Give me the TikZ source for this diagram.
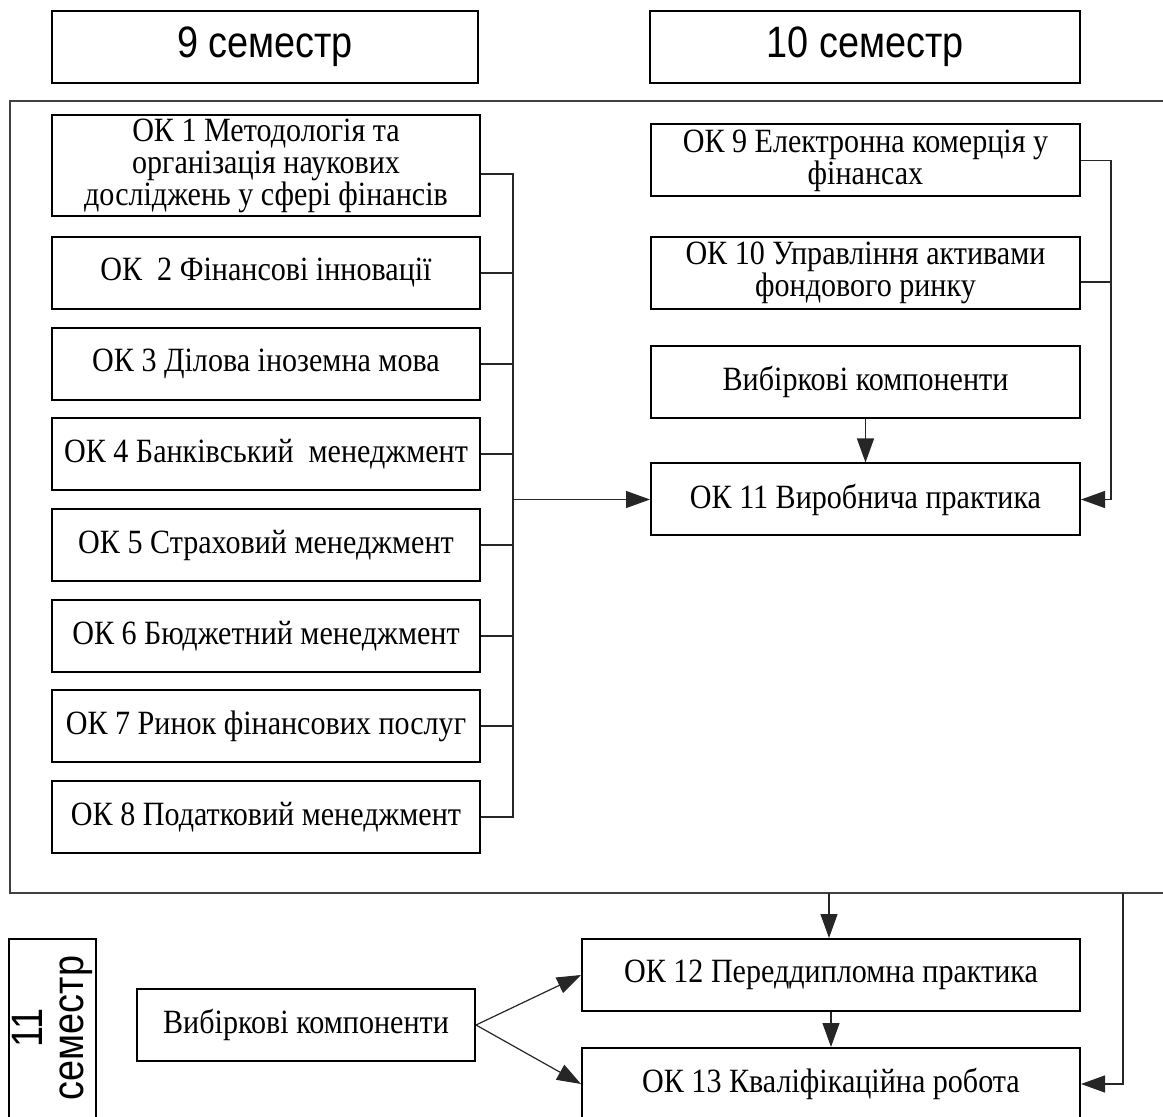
\documentclass[tikz,border=0pt]{standalone}
\usepackage{fontspec}
\setmainfont{Liberation Serif}[FakeStretch=0.885]
\setsansfont{Liberation Sans}[FakeStretch=0.86]
\usetikzlibrary{arrows.meta}
\begin{document}
\begin{tikzpicture}[x=0.5pt,y=-0.5pt,
  box/.style={draw=black, line width=1pt, inner sep=0pt, align=center,
    minimum width=214pt, minimum height=36pt,
    font=\fontsize{17}{16}\selectfont},
  rbox/.style={box, minimum width=214.5pt},
  head/.style={draw=black, line width=1pt, inner sep=0pt, align=center,
    minimum height=36pt, font=\sffamily\fontsize{22}{24}\selectfont},
  conn/.style={draw=black!85, line width=0.6pt},
  arr/.style={-{Triangle[length=12pt,width=8.5pt]}},
  frame/.style={draw=black!75, line width=0.6pt}]
\useasboundingbox (0,0) rectangle (1163,1117);
% headers
\node[head, minimum width=213pt] (h9) at (265,47) {9 семестр};
\node[head, minimum width=215pt] (h10) at (865,47) {10 семестр};
% frame
\draw[frame] (10,101) rectangle (1200,893);
% left column
\node[box, minimum height=50.5pt] (ok1) at (266,165.5) {ОК 1 Методологія та\\організація наукових\\досліджень у сфері фінансів};
\node[box] (ok2) at (266,273) {ОК\ \ 2 Фінансові інновації};
\node[box] (ok3) at (266,364) {ОК 3 Ділова іноземна мова};
\node[box] (ok4) at (266,454) {ОК 4 Банківський\ \ менеджмент};
\node[box] (ok5) at (266,545) {ОК 5 Страховий менеджмент};
\node[box] (ok6) at (266,636) {ОК 6 Бюджетний менеджмент};
\node[box] (ok7) at (266,726) {ОК 7 Ринок фінансових послуг};
\node[box] (ok8) at (266,817) {ОК 8 Податковий менеджмент};
% right column
\node[rbox] (ok9) at (865.5,160.5) {ОК 9 Електронна комерція у\\фінансах};
\node[rbox] (ok10) at (865.5,273) {ОК 10 Управління активами\\фондового ринку};
\node[rbox] (vib1) at (865.5,382) {Вибіркові компоненти};
\node[rbox] (ok11) at (865.5,499.5) {ОК 11 Виробнича практика};
% bottom
\node[draw=black, line width=1pt, minimum width=43.5pt, minimum height=93pt, inner sep=0pt] (s11) at (52.5,1032) {};
\node[rotate=90, anchor=south, align=center, inner sep=0pt, font=\sffamily\fontsize{22}{20.5}\selectfont] (s11t) at (93,1028) {11\\семестр};
\node[box, minimum width=169pt] (vib2) at (306,1025) {Вибіркові компоненти};
\node[box, minimum width=249pt] (ok12) at (831,975) {ОК 12 Переддипломна практика};
\node[box, minimum width=249pt] (ok13) at (831,1084) {ОК 13 Кваліфікаційна робота};
% left bus
\coordinate (lb) at (513,174);
\draw[conn] (ok1.east |- lb) -- (lb) -- (lb |- ok8.east) -- (ok8.east);
\foreach \n in {2,...,7} \draw[conn] (ok\n.east) -- (ok\n.east -| lb);
\draw[conn,arr] (ok11.west -| lb) -- (ok11.west);
% right bus
\coordinate (rb) at (1111,161);
\coordinate (r10) at (1111,282);
\draw[conn,arr] (ok9.east) -- (ok9.east -| rb) -- (rb |- ok11.east) -- (ok11.east);
\draw[conn] (ok10.east |- r10) -- (r10);
\draw[conn,arr] (vib1.south) -- (ok11.north);
% bottom connectors
\coordinate (fb1) at (829,893);
\coordinate (fb2) at (1123,893);
\draw[conn,arr] (fb1) -- (fb1 |- ok12.north);
\draw[conn,arr] (ok12.south) -- (ok13.north);
\draw[conn,arr] (fb2) -- (fb2 |- ok13.east) -- (ok13.east);
\draw[conn,arr] (vib2.east) -- (ok12.west);
\draw[conn,arr] (vib2.east) -- (ok13.west);
\end{tikzpicture}
\end{document}
